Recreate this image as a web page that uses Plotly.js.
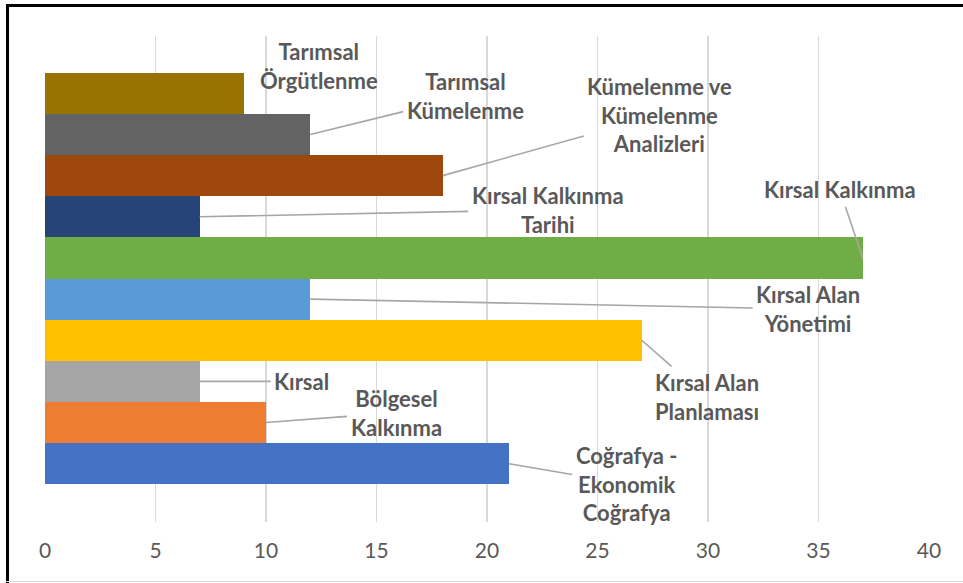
<!DOCTYPE html>
<html>
<head>
<meta charset="utf-8">
<script src="https://cdn.plot.ly/plotly-3.0.1.min.js"></script>
<style>
  html, body { margin: 0; padding: 0; background: #fff; }
  #wrap { position: relative; width: 963px; height: 583px; overflow: hidden; }
  #chart { position: absolute; left: 0; top: 0; width: 963px; height: 583px; }
  .bt { position: absolute; left: 6px; top: 4px; width: 957px; height: 3px; background: #000; pointer-events: none; }
  .bl { position: absolute; left: 6px; top: 4px; width: 3px; height: 579px; background: #000; pointer-events: none; }
  .bb { position: absolute; left: 6px; top: 581px; width: 957px; height: 1px; background: #d9d9d9; pointer-events: none; }
</style>
</head>
<body>
<div id="wrap">
  <div id="chart"></div>
  <div class="bt"></div><div class="bl"></div><div class="bb"></div>
</div>
<script>
// Categories from bottom to top
const categories = [
  "Coğrafya - Ekonomik Coğrafya",
  "Bölgesel Kalkınma",
  "Kırsal",
  "Kırsal Alan Planlaması",
  "Kırsal Alan Yönetimi",
  "Kırsal Kalkınma",
  "Kırsal Kalkınma Tarihi",
  "Kümelenme ve Kümelenme Analizleri",
  "Tarımsal Kümelenme",
  "Tarımsal Örgütlenme"
];
const values = [21, 10, 7, 27, 12, 37, 7, 18, 12, 9];
const labelTexts = [
  "Coğrafya -<br>Ekonomik<br>Coğrafya",
  "Bölgesel<br>Kalkınma",
  "Kırsal",
  "Kırsal Alan<br>Planlaması",
  "Kırsal Alan<br>Yönetimi",
  "Kırsal Kalkınma",
  "Kırsal Kalkınma<br>Tarihi",
  "Kümelenme ve<br>Kümelenme<br>Analizleri",
  "Tarımsal<br>Kümelenme",
  "Tarımsal<br>Örgütlenme"
];
const colors = ["#4472C4", "#ED7D31", "#A5A5A5", "#FFC000", "#5B9BD5",
                "#70AD47", "#264478", "#9E480E", "#636363", "#997300"];
const xTicks = [0, 5, 10, 15, 20, 25, 30, 35, 40];

// label offsets (pixels) from bar end; arrow flag
const labelOffsets = [
  [117, 20, true],
  [130, -10, true],
  [102, 0, true],
  [65, 57, true],
  [498, 10, true],
  [-23, -68, true],
  [348, -7, true],
  [217, -61, true],
  [155, -38, true],
  [75, -27, false]
];

const trace = {
  type: "bar",
  orientation: "h",
  x: values,
  y: categories,
  width: 1,
  marker: { color: colors, line: { width: 0 } },
  hoverinfo: "x+y"
};

const annotations = categories.map((c, i) => {
  const [ax, ay, arrow] = labelOffsets[i];
  const a = {
    x: values[i], y: c, xref: "x", yref: "y",
    text: labelTexts[i],
    font: { family: "Lato, 'Open Sans', sans-serif", size: 22, color: "#595959", weight: 700 },
    align: "center"
  };
  if (arrow) {
    Object.assign(a, { showarrow: true, ax: ax, ay: ay, axref: "pixel", ayref: "pixel",
      arrowhead: 0, arrowwidth: 1.6, arrowcolor: "#a6a6a6", standoff: 0, startstandoff: 2 });
  } else {
    Object.assign(a, { showarrow: false, xshift: ax, yshift: -ay });
  }
  return a;
});

const layout = {
  width: 963, height: 583,
  margin: { l: 45, r: 34, t: 36, b: 61 },
  paper_bgcolor: "#fff", plot_bgcolor: "#fff",
  showlegend: false,
  bargap: 0,
  xaxis: {
    range: [0, 40], tickvals: xTicks, ticktext: xTicks.map(String),
    showgrid: true, gridcolor: "#d9d9d9", gridwidth: 1.8,
    zeroline: false, showline: false, ticks: "",
    tickfont: { family: "Lato, 'Open Sans', sans-serif", size: 21, color: "#595959" },
    ticklabelstandoff: 14, fixedrange: true
  },
  yaxis: {
    type: "category", categoryorder: "array", categoryarray: categories,
    range: [-1.416, 10.392], showticklabels: false, showgrid: false,
    zeroline: false, showline: false, ticks: "", fixedrange: true
  },
  annotations: annotations
};

Plotly.newPlot("chart", [trace], layout, { displayModeBar: false, staticPlot: true });
</script>
</body>
</html>
